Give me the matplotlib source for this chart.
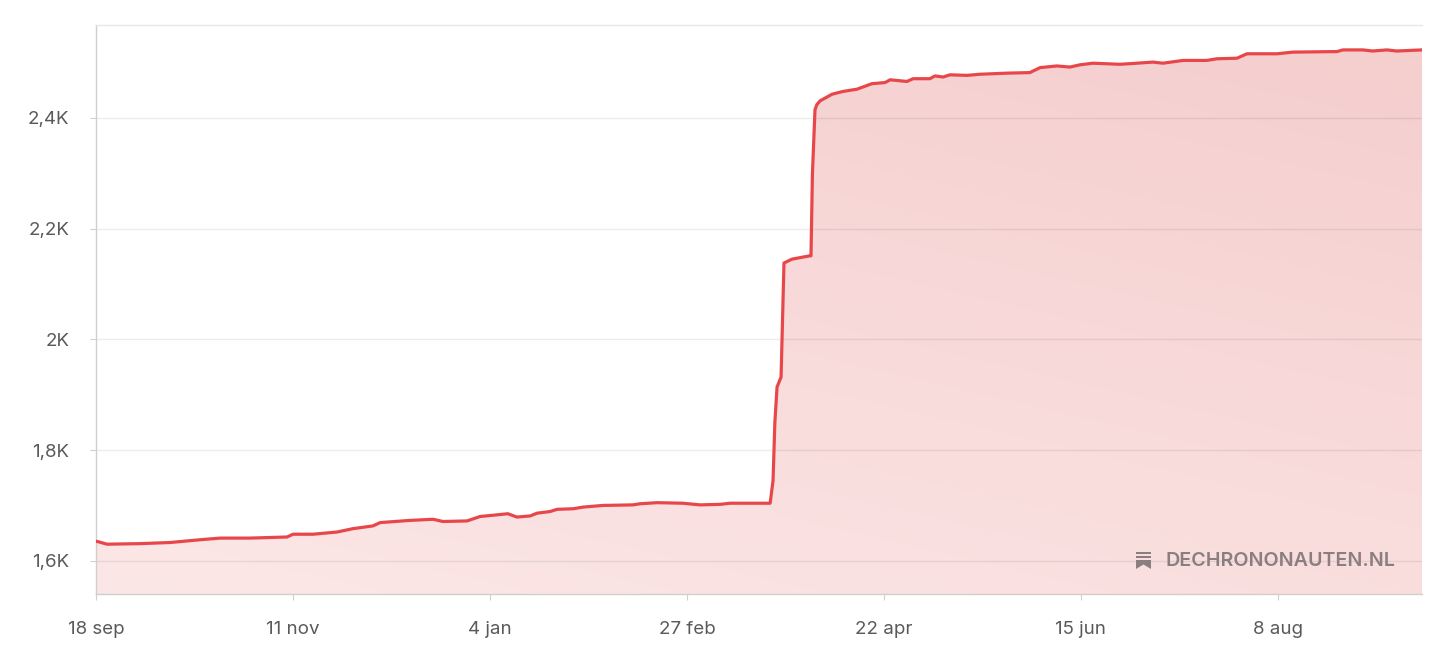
import matplotlib
matplotlib.use('Agg')
import matplotlib.pyplot as plt
import matplotlib.dates as mdates
from matplotlib.patches import Rectangle, Polygon
from datetime import datetime
import numpy as np

# lettertype
plt.rcParams['font.family'] = ['Inter', 'DejaVu Sans']

# gegevens (dagen sinds 18 sep, aantal)
start = datetime(2022, 9, 18)
dagen = [0, 0.3, 3.0, 12.1, 20.3, 28.5, 34.0, 42.2, 52.4, 54.0, 59.5, 66.1, 70.4,
         75.9, 77.9, 86.1, 92.4, 95.1, 101.7, 105.3, 109.9, 112.9, 115.4, 119.0,
         120.9, 124.5, 126.4, 130.8, 133.5, 139.0, 147.2, 149.1, 153.8, 160.9,
         165.6, 171.1, 173.8, 184.8, 185.6, 186.1, 186.7, 187.8, 188.6, 190.8,
         195.7, 196.0, 196.4, 197.1, 197.6, 198.5, 201.8, 204.8, 208.6, 212.7,
         216.3, 217.7, 222.3, 224.0, 228.6, 230.0, 232.2, 234.1, 238.8, 242.3,
         249.7, 256.0, 258.8, 263.4, 267.0, 269.7, 273.3, 280.7, 285.4, 289.7,
         292.5, 298.0, 304.5, 307.3, 312.8, 315.5, 323.7, 328.1, 340.2, 341.8,
         347.3, 350.0, 353.9, 356.6, 363.5]
aantal = [1635, 1635, 1630, 1631, 1633, 1638, 1641, 1641, 1643, 1648, 1648, 1652, 1658,
          1663, 1669, 1673, 1675, 1671, 1672, 1680, 1683, 1685, 1679, 1681,
          1686, 1689, 1693, 1694, 1697, 1700, 1701, 1703, 1705, 1704,
          1701, 1702, 1704, 1704, 1745, 1850, 1914, 1932, 2138, 2145,
          2151, 2151, 2300, 2415, 2424, 2431, 2443, 2448, 2452, 2462,
          2464, 2469, 2466, 2471, 2471, 2476, 2474, 2478, 2477, 2479,
          2481, 2482, 2491, 2494, 2492, 2496, 2499, 2497, 2499, 2501,
          2499, 2504, 2504, 2507, 2508, 2516, 2516, 2519, 2520, 2523,
          2523, 2521, 2523, 2521, 2523]

x_ticks = ['2022-09-18', '2022-11-11', '2023-01-04', '2023-02-27',
           '2023-04-22', '2023-06-15', '2023-08-08']
x_labels = ['18 sep', '11 nov', '4 jan', '27 feb', '22 apr', '15 jun', '8 aug']
y_ticks = [1600, 1800, 2000, 2200, 2400]
y_labels = ['1,6K', '1,8K', '2K', '2,2K', '2,4K']
watermerk = 'DECHRONONAUTEN.NL'

W, H = 1456, 672
x = mdates.date2num(start) + np.array(dagen)
xmin = x[0]
xmax = mdates.date2num(start) + 363.5
ymin, ymax = 1540, 2568

fig = plt.figure(figsize=(W / 100, H / 100), dpi=100)
ax = fig.add_axes([96 / W, (H - 594) / H, (1422 - 96) / W, (594 - 25) / H])
ax.set_xlim(xmin, xmax)
ax.set_ylim(ymin, ymax)

# verloop in de vulling
licht = np.array([252, 231, 231]) / 255
donker = np.array([245, 205, 205]) / 255
yy, xx = np.mgrid[0:1:200j, 0:1:300j]
t = np.clip(0.65 * yy + 0.35 * xx, 0, 1)[..., None]
img = licht * (1 - t) + donker * t
vul = ax.fill_between(x, aantal, ymin, facecolor='none', edgecolor='none')
im = ax.imshow(img, extent=[xmin, xmax, ymin, ymax], origin='lower',
               aspect='auto', zorder=1, interpolation='bilinear')
im.set_clip_path(vul.get_paths()[0], transform=ax.transData)

ax.plot(x, aantal, color='#e8474a', lw=2.3, zorder=3, solid_joinstyle='round')

# assen
ax.set_yticks(y_ticks)
ax.set_yticklabels(y_labels)
ax.set_xticks([mdates.date2num(datetime.strptime(d, '%Y-%m-%d')) for d in x_ticks])
ax.set_xticklabels(x_labels)
ax.set_axisbelow('line')
ax.yaxis.grid(True, color='#000000', alpha=0.075, lw=1)
ax.spines['right'].set_visible(False)
ax.spines['top'].set_color('#e8e8e8')
ax.spines['left'].set_color('#cfcfcf')
ax.spines['bottom'].set_color('#cfcfcf')
for s in ['top', 'left', 'bottom']:
    ax.spines[s].set_linewidth(1)
ax.tick_params(axis='y', length=4.3, width=0.8, color='#d0d0d0',
               labelcolor='#5a5a5a', labelsize=13.5, pad=15)
ax.tick_params(axis='x', length=4.3, width=0.8, color='#d0d0d0',
               labelcolor='#5a5a5a', labelsize=13.5, pad=15)

# watermerk
kleur = '#8a7e7e'
fig.text(1395 / W, 1 - 561 / H, watermerk, ha='right', va='center',
         fontsize=14.2, fontweight='semibold', color=kleur)


def f(px, py):
    return (px / W, 1 - py / H)


fig.add_artist(Rectangle(f(1136, 554), 15 / W, 2.2 / H, transform=fig.transFigure,
                         color=kleur, lw=0))
fig.add_artist(Rectangle(f(1136, 558), 15 / W, 2.2 / H, transform=fig.transFigure,
                         color=kleur, lw=0))
fig.add_artist(Polygon([f(1136, 560), f(1151, 560), f(1151, 569), f(1143.5, 564.5),
                        f(1136, 569)], transform=fig.transFigure, color=kleur, lw=0))

fig.savefig('out.png', dpi=100, facecolor='white')
